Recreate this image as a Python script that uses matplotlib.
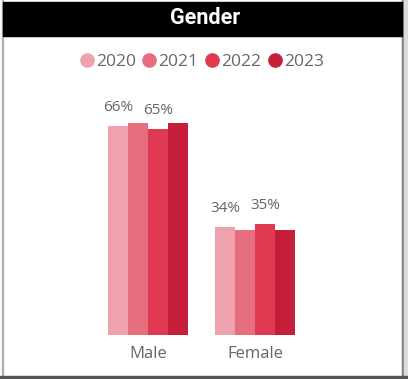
import matplotlib.pyplot as plt
from matplotlib.patches import Rectangle
from matplotlib.lines import Line2D
import numpy as np

W, H = 408, 379

categories = ["Male", "Female"]
years = ["2020", "2021", "2022", "2023"]
values = {
    "2020": [66, 34],
    "2021": [67, 33],
    "2022": [65, 35],
    "2023": [67, 33],
}
labelled_years = ["2020", "2022"]
colors = ["#EEA2AD", "#E66E7E", "#DF3A52", "#C41E3A"]


def px(x0, y0, w, h):
    # pixel box measured from the top-left corner -> figure fraction
    return [x0 / W, 1 - (y0 + h) / H, w / W, h / H]


fig = plt.figure(figsize=(W / 100, H / 100), dpi=100)
fig.patch.set_facecolor("white")

# card frame and black header
frame = [
    Rectangle((2 / W, 0), 1 / W, 1, color="#b0b0b0"),
    Rectangle((402 / W, 0), 2 / W, 1, color="#808080"),
    Rectangle((404 / W, 0), 4 / W, 1, color="#dcdcdc"),
    Rectangle((0, 0), 1, 3 / H, color="#555555"),
    Rectangle((3 / W, 1 - 36 / H), 399 / W, 34 / H, color="black"),
]
for p in frame:
    fig.add_artist(p)
fig.text(205 / W, 1 - 18.5 / H, "Gender", color="white", fontsize=15.5,
         fontweight="bold", family="Roboto", ha="center", va="center")

# bars
left_px, right_px = 60, 345
top_px, base_px = 80, 335
ax = fig.add_axes(px(left_px, top_px, right_px - left_px, base_px - top_px))
step = 107.0
c0 = 148.3
ax.set_xlim((left_px - c0) / step, (right_px - c0) / step)
ax.set_ylim(0, (base_px - top_px) / 3.17)

x = np.arange(len(categories))
bw = 20 / step
for i, (yr, col) in enumerate(zip(years, colors)):
    xs = x + (i - 1.5) * bw
    ax.bar(xs, values[yr], width=bw, color=col, linewidth=0)
    if yr in labelled_years:
        for xi, v in zip(xs, values[yr]):
            ax.annotate(f"{v}%", (xi, v), xytext=(0, 13.5), textcoords="offset points",
                        ha="center", va="center", fontsize=11, color="#666666",
                        family="Open Sans")

ax.set_xticks(x)
ax.set_xticklabels(categories, fontsize=12, color="#666666", family="Open Sans")
ax.tick_params(axis="x", length=0, pad=8)
ax.set_yticks([])
for s in ax.spines.values():
    s.set_visible(False)
ax.patch.set_alpha(0)

# legend
handles = [Line2D([], [], marker="o", linestyle="", markersize=9.5,
                  markerfacecolor=c, markeredgecolor=c) for c in colors]
fig.legend(handles, years, loc="center", bbox_to_anchor=(202 / W, 1 - 61.5 / H),
           ncol=4, frameon=False, handlelength=0.75, handletextpad=0.15,
           columnspacing=0.4, borderpad=0,
           prop={"family": "Open Sans", "size": 12.5}, labelcolor="#666666")

fig.savefig("out.png", dpi=100)
